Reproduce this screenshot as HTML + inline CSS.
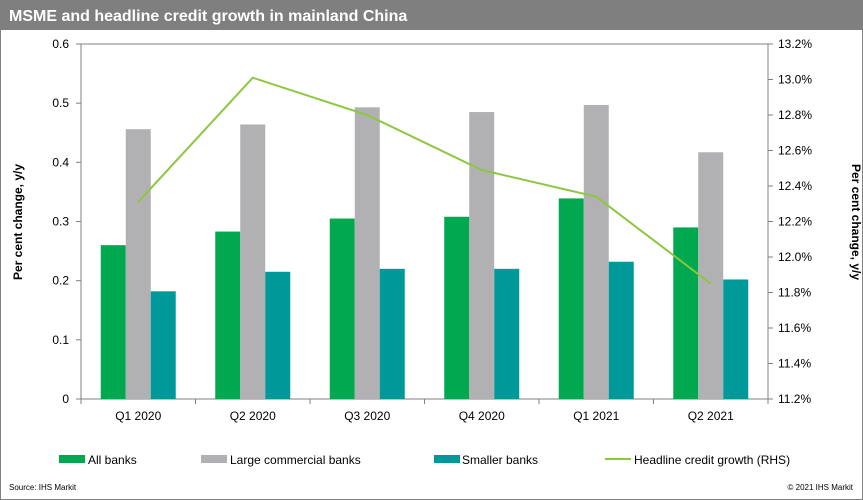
<!DOCTYPE html>
<html><head><meta charset="utf-8"><style>
body{margin:0;background:#fff;}
#c{position:relative;width:863px;height:500px;overflow:hidden;font-family:"Liberation Sans",Arial,sans-serif;}
</style></head><body>
<div id="c">
<svg id="s" width="863" height="500" xmlns="http://www.w3.org/2000/svg">
<rect x="0.5" y="0.5" width="862" height="499" fill="#fff" stroke="#808080"/>
<rect x="0" y="0" width="863" height="30" fill="#7f7f7f"/>
<text x="9" y="21" fill="#fff" font-size="16" font-weight="bold">MSME and headline credit growth in mainland China</text>
<text transform="translate(22,222) rotate(-90)" text-anchor="middle" font-size="12" font-weight="bold">Per cent change, y/y</text>
<text transform="translate(852,222) rotate(90)" text-anchor="middle" font-size="12" font-weight="bold">Per cent change, y/y</text>
<g id="plot"></g>
<g>
<rect x="59" y="455" width="26" height="8" fill="#00a84f"/>
<text x="88" y="464" font-size="12">All banks</text>
<rect x="201" y="455" width="26" height="8" fill="#b1b1b3"/>
<text x="230" y="464" font-size="12">Large commercial banks</text>
<rect x="434" y="455" width="26" height="8" fill="#009999"/>
<text x="462" y="464" font-size="12">Smaller banks</text>
<line x1="605" y1="459" x2="631" y2="459" stroke="#8dc63f" stroke-width="2"/>
<text x="634" y="464" font-size="12">Headline credit growth (RHS)</text>
</g>
<text x="9" y="490" font-size="8">Source: IHS Markit</text>
<text x="853" y="490" font-size="8" text-anchor="end">© 2021 IHS Markit</text>
</svg>
</div>
<script>
const categories=["Q1 2020","Q2 2020","Q3 2020","Q4 2020","Q1 2021","Q2 2021"];
const allBanks=[0.26,0.283,0.305,0.308,0.339,0.29];
const largeBanks=[0.456,0.464,0.493,0.485,0.497,0.417];
const smallerBanks=[0.182,0.215,0.22,0.22,0.232,0.202];
const headline=[12.31,13.01,12.8,12.49,12.34,11.85];
const leftTicks=[0,0.1,0.2,0.3,0.4,0.5,0.6];
const rightTicks=[11.2,11.4,11.6,11.8,12.0,12.2,12.4,12.6,12.8,13.0,13.2];

const NS="http://www.w3.org/2000/svg";
const g=document.getElementById('plot');
const X0=81,X1=768,Y0=399,Y1=44;
const cw=(X1-X0)/categories.length;
const yL=v=>Y0-(v-0)/(0.6-0)*(Y0-Y1);
const yR=v=>Y0-(v-11.2)/(13.2-11.2)*(Y0-Y1);
const xc=i=>X0+cw*(i+0.5);
function mk(t,a){const e=document.createElementNS(NS,t);for(const k in a)e.setAttribute(k,a[k]);g.appendChild(e);return e;}
// axes
let ax=mk('line',{x1:X0,y1:Y1,x2:X0,y2:Y0,stroke:'#808080'});


ax=mk('line',{x1:X1,y1:Y1,x2:X1,y2:Y0,stroke:'#808080'});


ax=mk('line',{x1:X0,y1:Y0,x2:X1,y2:Y0,stroke:'#808080'});


ax=mk('line',{x1:X0,y1:Y1,x2:X1,y2:Y1,stroke:'#808080'});


leftTicks.forEach(v=>{const y=yL(v);
 mk('line',{x1:X0-5,y1:y,x2:X0,y2:y,stroke:'#808080'});
 const t=mk('text',{x:69,y:y+4,'font-size':12,'text-anchor':'end'});t.textContent=String(v);
 
 });
rightTicks.forEach(v=>{const y=yR(v);
 mk('line',{x1:X1,y1:y,x2:X1+5,y2:y,stroke:'#808080'});
 const t=mk('text',{x:778,y:y+4,'font-size':12});t.textContent=v.toFixed(1)+'%';
 
 });
for(let i=0;i<=categories.length;i++){const x=X0+cw*i;mk('line',{x1:x,y1:Y0,x2:x,y2:Y0+5,stroke:'#808080'});}
const series=[[allBanks,'#00a84f','bar-all-banks'],[largeBanks,'#b1b1b3','bar-large-banks'],[smallerBanks,'#009999','bar-smaller-banks']];
const bw=25;
categories.forEach((c,i)=>{
 series.forEach((s,j)=>{const v=s[0][i];const x=xc(i)-37.5+j*bw;
  const r=mk('rect',{x:x,y:yL(v),width:bw,height:Y0-yL(v),fill:s[1]});
  
  });
 const t=mk('text',{x:xc(i),y:Y0+21,'font-size':12,'text-anchor':'middle'});t.textContent=c;
 
 
});
const pl=mk('polyline',{points:headline.map((v,i)=>xc(i)+','+yR(v)).join(' '),fill:'none',stroke:'#8dc63f','stroke-width':2});


</script>
</body></html>
